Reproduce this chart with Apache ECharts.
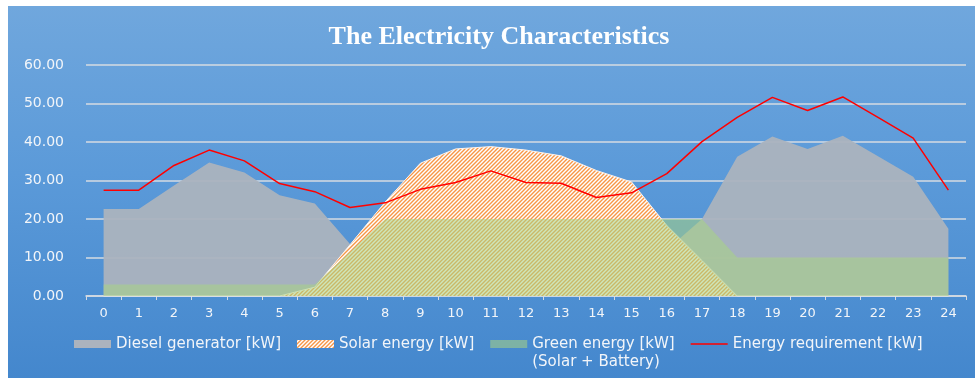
<!DOCTYPE html>
<html>
<head>
<meta charset="utf-8">
<script src="https://cdn.jsdelivr.net/npm/echarts@6/dist/echarts.min.js"></script>
<style>
  html, body { margin: 0; padding: 0; background: #ffffff; }
  #frame {
    position: absolute; left: 8px; top: 6px; width: 967px; height: 372px;
    background: linear-gradient(to bottom, #70a7dd 0%, #5b9ad9 45%, #4487cd 100%);
  }
  #chart { width: 967px; height: 372px; }
</style>
</head>
<body>
<div id="frame"><div id="chart"></div></div>
<script>
// Hours of the day (x axis)
const hours = ['0','1','2','3','4','5','6','7','8','9','10','11','12','13','14','15','16','17','18','19','20','21','22','23','24'];

// Power per hour [kW]
const dieselKW = [22.6, 22.6, 28.7, 34.7, 32.1, 26.2, 24.0, 13.5, 4.5, 7.5, 9.5, 12.5, 9.5, 9.3, 5.6, 6.8, 12.0, 20.0, 36.2, 41.4, 38.2, 41.6, 36.3, 31.0, 17.5];
const solarKW  = [0, 0, 0, 0, 0, 0, 2.3, 13.3, 24.4, 34.5, 38.2, 38.8, 37.9, 36.4, 32.6, 29.6, 18.3, 9.2, 0, 0, 0, 0, 0, 0, 0];
const greenKW  = [3, 3, 3, 3, 3, 3, 3, 11.5, 20, 20, 20, 20, 20, 20, 20, 20, 20, 20, 10, 10, 10, 10, 10, 10, 10];
const demandKW = [27.5, 27.5, 33.9, 37.9, 35.1, 29.2, 27.1, 23.0, 24.2, 27.7, 29.5, 32.5, 29.5, 29.3, 25.6, 26.8, 31.8, 40.1, 46.4, 51.6, 48.2, 51.7, 46.4, 41.0, 27.5];

// Series names
const nameDiesel = 'Diesel generator [kW]';
const nameSolar  = 'Solar energy [kW]';
const nameGreen  = 'Green energy [kW]\n(Solar + Battery)';
const nameDemand = 'Energy requirement [kW]';

// Orange / white diagonal hatch used for the solar area
function makeHatch() {
  const c = document.createElement('canvas');
  c.width = 4; c.height = 4;
  const ctx = c.getContext('2d');
  ctx.fillStyle = '#ffffff';
  ctx.fillRect(0, 0, 4, 4);
  ctx.strokeStyle = '#f79646';
  ctx.lineWidth = 1.4;
  ctx.beginPath();
  ctx.moveTo(-1, 5); ctx.lineTo(5, -1);
  ctx.moveTo(-1, 1); ctx.lineTo(1, -1);
  ctx.moveTo(3, 5); ctx.lineTo(5, 3);
  ctx.stroke();
  return c;
}
const hatch = { image: makeHatch(), repeat: 'repeat' };

const txt = '#f2f5f9';
const gridCol = '#d6dbe2';
const greenFill = 'rgba(168,210,132,0.56)';

const chart = echarts.init(document.getElementById('chart'), null, { renderer: 'canvas' });
chart.setOption({
  animation: false,
  backgroundColor: 'transparent',
  title: {
    text: 'The Electricity Characteristics',
    left: 486, top: 13, textAlign: 'center',
    textStyle: { color: '#ffffff', fontFamily: 'Liberation Serif', fontWeight: 'bold', fontSize: 26 }
  },
  grid: { left: 78, right: 9, top: 59, bottom: 82 },
  legend: {
    left: 66, top: 311, padding: 0, itemGap: 16, itemWidth: 37, itemHeight: 8,
    textStyle: { color: txt, fontFamily: 'DejaVu Sans', fontSize: 15, lineHeight: 18 },
    formatter: function (n) { return n === nameGreen ? '\n' + n : n; },
    data: [
      { name: nameDiesel, icon: 'rect' },
      { name: nameSolar, icon: 'rect', itemStyle: { color: hatch } },
      { name: nameGreen, icon: 'rect' },
      { name: nameDemand, icon: 'path://M0,0h0.05v0.05h-0.05z M0,3.3h37v1.5h-37z M36.95,7.95h0.05v0.05h-0.05z' }
    ]
  },
  xAxis: {
    type: 'category', data: hours, boundaryGap: true,
    axisLine: { lineStyle: { color: gridCol, width: 1.5 } },
    axisTick: { show: true, length: 4, lineStyle: { color: gridCol, width: 1 } },
    axisLabel: { color: txt, fontFamily: 'DejaVu Sans', fontSize: 13, margin: 11 },
    splitLine: { show: false }
  },
  yAxis: {
    type: 'value', min: 0, max: 60, interval: 10,
    axisLine: { show: false }, axisTick: { show: false },
    splitLine: { lineStyle: { color: gridCol, width: 1.5 } },
    axisLabel: { color: txt, fontFamily: 'DejaVu Sans', fontSize: 14, margin: 22,
      formatter: function (v) { return v.toFixed(2); } }
  },
  series: [
    { name: nameDiesel, type: 'line', data: dieselKW, symbol: 'none', silent: true,
      itemStyle: { color: '#abb3be' }, lineStyle: { width: 0, opacity: 0 },
      areaStyle: { color: '#abb3be', opacity: 0.95 }, z: 2 },
    { name: nameSolar, type: 'line', data: solarKW, symbol: 'none', silent: true,
      itemStyle: { color: '#f79646' }, lineStyle: { width: 1, color: '#fff3ea' },
      areaStyle: { color: hatch, opacity: 1 }, z: 3 },
    { name: nameGreen, type: 'line', data: greenKW, symbol: 'none', silent: true,
      itemStyle: { color: greenFill }, lineStyle: { width: 0, opacity: 0 },
      areaStyle: { color: greenFill, opacity: 1 }, z: 4 },
    { name: nameDemand, type: 'line', data: demandKW, symbol: 'none', silent: true,
      itemStyle: { color: '#ff0000' }, lineStyle: { width: 1.5, color: '#ff0000' }, z: 5 }
  ]
});
</script>
</body>
</html>
